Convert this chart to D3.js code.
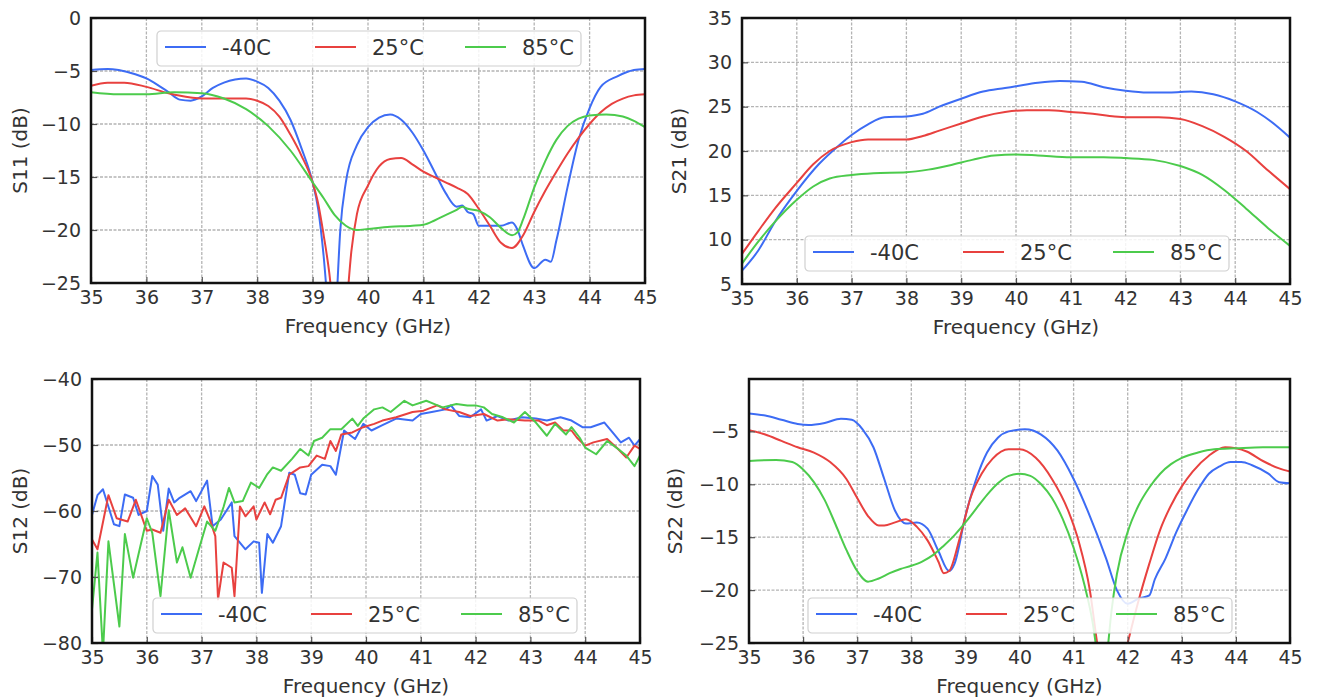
<!DOCTYPE html>
<html>
<head>
<meta charset="utf-8">
<script src="https://cdn.jsdelivr.net/npm/d3@7"></script>
<style>
  body { margin: 0; background: #fff; }
  svg { display: block; }
  text { font-family: "DejaVu Sans", sans-serif; fill: #333; }
</style>
</head>
<body>
<svg id="chart" width="1319" height="700"></svg>
<script>
// Temperature series shared by all four panels
const seriesNames = ["-40C", "25°C", "85°C"];
const seriesColors = ["#3d6cf4", "#e8413f", "#4ccb4c"];

const freqTicks = [35, 36, 37, 38, 39, 40, 41, 42, 43, 44, 45];
const s11Ticks = [0, -5, -10, -15, -20, -25];
const s21Ticks = [5, 10, 15, 20, 25, 30, 35];
const s12Ticks = [-40, -50, -60, -70, -80];
const s22Ticks = [-5, -10, -15, -20, -25];

// S11 (dB) vs frequency (GHz)
const s11_m40 = [[35,-4.9],[35.3,-4.8],[35.5,-4.9],[35.8,-5.3],[36,-5.7],[36.2,-6.3],[36.4,-7.0],[36.6,-7.7],[36.8,-7.8],[37,-7.4],[37.2,-6.6],[37.4,-6.1],[37.6,-5.8],[37.8,-5.7],[38,-6.0],[38.2,-6.6],[38.4,-7.8],[38.6,-9.6],[38.8,-12.3],[39,-15.5],[39.1,-18],[39.2,-22.5],[39.3,-29],[39.36,-33],[39.42,-28],[39.5,-20],[39.6,-15.5],[39.8,-12],[40,-10.3],[40.2,-9.4],[40.4,-9.1],[40.6,-9.6],[40.8,-10.8],[41,-12.5],[41.2,-14.5],[41.4,-16.5],[41.6,-17.8],[41.7,-17.7],[41.8,-18.3],[41.9,-18.5],[42,-19.6],[42.2,-19.6],[42.4,-19.6],[42.6,-19.3],[42.7,-20],[42.8,-21.5],[43,-23.6],[43.2,-22.8],[43.3,-23.0],[43.4,-21],[43.6,-16],[43.8,-11.5],[44,-8.5],[44.2,-6.5],[44.5,-5.5],[44.8,-4.9],[45,-4.8]];
const s11_25 = [[35,-6.4],[35.3,-6.1],[35.6,-6.1],[36,-6.5],[36.4,-7.1],[36.8,-7.5],[37,-7.6],[37.4,-7.6],[37.8,-7.6],[38,-7.8],[38.2,-8.3],[38.4,-9.3],[38.6,-11],[38.8,-13],[39,-15.5],[39.1,-17.5],[39.2,-20.5],[39.3,-24],[39.4,-29],[39.5,-32],[39.6,-28],[39.7,-22],[39.8,-18.5],[40,-15.8],[40.2,-14],[40.4,-13.3],[40.6,-13.2],[40.8,-13.8],[41,-14.5],[41.2,-15.0],[41.4,-15.5],[41.6,-16.0],[41.8,-16.6],[42,-18],[42.2,-19.6],[42.4,-21.2],[42.6,-21.7],[42.8,-20.5],[43,-18.3],[43.2,-16.3],[43.4,-14.5],[43.6,-12.8],[43.8,-11.3],[44,-10],[44.2,-8.9],[44.4,-8.1],[44.6,-7.6],[44.8,-7.3],[45,-7.2]];
const s11_85 = [[35,-7.0],[35.5,-7.2],[36,-7.2],[36.5,-7.0],[37,-7.1],[37.4,-7.6],[37.8,-8.6],[38.2,-10.2],[38.6,-12.5],[39,-15.5],[39.2,-17],[39.4,-18.6],[39.6,-19.6],[39.8,-20.0],[40,-19.9],[40.4,-19.7],[40.8,-19.6],[41,-19.5],[41.2,-19.1],[41.4,-18.6],[41.6,-18.1],[41.7,-17.8],[41.8,-18.0],[42,-18.2],[42.2,-18.8],[42.4,-19.8],[42.6,-20.5],[42.7,-20.2],[42.8,-19],[43,-16],[43.2,-13.5],[43.4,-11.5],[43.6,-10.2],[43.8,-9.5],[44,-9.2],[44.3,-9.1],[44.6,-9.3],[44.8,-9.7],[45,-10.3]];

// S21 (dB) vs frequency (GHz)
const s21_m40 = [[35,6.5],[35.3,8.8],[35.6,12],[36,15.5],[36.4,18.5],[36.8,20.8],[37,21.8],[37.3,23],[37.6,23.8],[38,23.9],[38.3,24.2],[38.6,25],[39,25.9],[39.4,26.7],[39.8,27.1],[40,27.3],[40.4,27.7],[40.8,27.9],[41.2,27.8],[41.6,27.2],[42,26.8],[42.4,26.6],[42.8,26.6],[43.2,26.7],[43.6,26.4],[44,25.6],[44.4,24.4],[44.8,22.6],[45,21.5]];
const s21_25 = [[35,8.4],[35.3,11],[35.6,13.5],[36,16.4],[36.3,18.5],[36.6,20],[37,21.0],[37.3,21.3],[37.6,21.3],[38,21.3],[38.3,21.7],[38.6,22.3],[39,23.1],[39.4,23.9],[39.8,24.4],[40.2,24.6],[40.6,24.6],[41,24.4],[41.4,24.2],[41.8,23.9],[42.2,23.8],[42.6,23.8],[43,23.6],[43.4,22.8],[43.8,21.6],[44.2,20],[44.6,17.8],[45,15.7]];
const s21_85 = [[35,7.3],[35.3,9.8],[35.6,12.0],[36,14.5],[36.3,16.0],[36.6,16.9],[37,17.3],[37.4,17.5],[38,17.6],[38.4,17.9],[38.8,18.4],[39.2,19.0],[39.6,19.5],[40,19.6],[40.4,19.5],[41,19.3],[41.6,19.3],[42,19.2],[42.5,19.0],[43,18.3],[43.4,17.3],[43.8,15.6],[44.2,13.5],[44.6,11.3],[45,9.3]];

// S12 (dB) vs frequency (GHz), measured trace
const s12_m40 = [[35,-60.6],[35.1,-57.6],[35.2,-56.7],[35.4,-62],[35.5,-62.3],[35.6,-57.5],[35.75,-58],[35.85,-60.6],[36,-60],[36.1,-54.7],[36.2,-56],[36.3,-63],[36.4,-56.6],[36.5,-58.7],[36.6,-58],[36.8,-57],[36.9,-58.5],[37.1,-55.4],[37.2,-62.3],[37.35,-61.3],[37.55,-58.7],[37.6,-63.8],[37.8,-65.8],[37.95,-64.6],[38.05,-64.8],[38.1,-72.4],[38.2,-63.5],[38.3,-64.8],[38.45,-62.3],[38.6,-54.2],[38.7,-54.5],[38.8,-57.3],[38.9,-57.5],[39,-54.5],[39.2,-53],[39.35,-53.2],[39.45,-54.5],[39.6,-47.8],[39.8,-49.1],[39.95,-46.8],[40.1,-47.8],[40.3,-47],[40.55,-46],[40.85,-46.3],[41,-45.3],[41.2,-45],[41.45,-44.6],[41.55,-44],[41.7,-45.6],[41.9,-45.8],[42.1,-44.6],[42.2,-46.3],[42.4,-45.6],[42.6,-46.3],[42.85,-45.8],[43.1,-46],[43.3,-46.3],[43.55,-45.8],[43.75,-46.3],[43.95,-47.3],[44.1,-47.3],[44.35,-46.6],[44.5,-48.1],[44.65,-49.6],[44.8,-48.9],[44.9,-50.1],[45,-49.1]];
const s12_25 = [[35,-64.3],[35.1,-65.8],[35.3,-57.6],[35.45,-61.1],[35.65,-61.6],[35.8,-58.3],[36,-63],[36.1,-62.8],[36.25,-63.3],[36.4,-58.3],[36.55,-60.6],[36.7,-59.6],[36.9,-62.3],[37.05,-59.3],[37.15,-61.3],[37.25,-63.8],[37.3,-73.4],[37.4,-67.8],[37.55,-68.6],[37.6,-72.9],[37.7,-59.3],[37.8,-60.8],[37.95,-59.3],[38,-61.3],[38.15,-58.7],[38.25,-60.5],[38.35,-58.3],[38.45,-58],[38.6,-54.5],[38.8,-53.4],[38.95,-53.2],[39.1,-51.6],[39.25,-52.1],[39.35,-49.4],[39.45,-50.9],[39.55,-48.4],[39.75,-48.1],[39.95,-47.3],[40.15,-46.8],[40.3,-46.3],[40.55,-45.8],[40.85,-45],[41.05,-44.8],[41.3,-44],[41.45,-44.6],[41.7,-45],[41.9,-45.6],[42.15,-45.3],[42.4,-46.3],[42.6,-46.1],[42.9,-46.3],[43.15,-46.3],[43.3,-47],[43.45,-46.6],[43.6,-47.8],[43.75,-47.8],[43.85,-48.9],[44,-50.1],[44.15,-49.6],[44.4,-49.1],[44.6,-50.6],[44.75,-51.9],[44.9,-50.1],[45,-50.6]];
const s12_85 = [[35,-74.9],[35.1,-66.3],[35.2,-81.5],[35.3,-64.6],[35.5,-77.5],[35.6,-63.5],[35.75,-70.1],[36,-61.1],[36.1,-63.3],[36.25,-72.9],[36.4,-59.9],[36.55,-67.8],[36.65,-65.5],[36.8,-70.1],[36.95,-65.8],[37.1,-61.6],[37.25,-63],[37.4,-59.4],[37.5,-56.5],[37.6,-58.7],[37.75,-58.5],[37.9,-55.7],[38.05,-56.5],[38.2,-54.4],[38.3,-53.4],[38.45,-53.9],[38.65,-52.1],[38.8,-50.6],[38.95,-51.6],[39.05,-49.4],[39.2,-48.9],[39.35,-47.6],[39.55,-47.6],[39.75,-46],[39.85,-47.1],[39.95,-46],[40.15,-44.6],[40.3,-44.3],[40.45,-45],[40.7,-43.3],[40.85,-44],[41.1,-43.3],[41.25,-43.8],[41.4,-44.3],[41.65,-43.8],[41.85,-44],[42,-44],[42.15,-44.3],[42.3,-45.3],[42.5,-45.8],[42.7,-46.6],[42.9,-45],[43.1,-46.6],[43.3,-48.6],[43.45,-46.8],[43.65,-48.4],[43.75,-47.3],[43.9,-48.9],[44,-50.4],[44.2,-51.4],[44.4,-49.4],[44.6,-50.6],[44.75,-51.6],[44.9,-53.2],[45,-51.6]];

// S22 (dB) vs frequency (GHz)
const s22_m40 = [[35,-3.3],[35.3,-3.5],[35.6,-3.9],[35.9,-4.3],[36.1,-4.4],[36.4,-4.2],[36.7,-3.8],[36.9,-3.9],[37.1,-4.8],[37.3,-6.5],[37.5,-9.5],[37.7,-12.5],[37.9,-13.7],[38.1,-13.6],[38.3,-14.2],[38.5,-16.3],[38.7,-18.2],[38.8,-17.5],[39,-13],[39.2,-9.5],[39.4,-7],[39.6,-5.6],[39.8,-5.0],[40.1,-4.8],[40.4,-5.3],[40.7,-6.8],[41,-9.5],[41.3,-13],[41.6,-17],[41.8,-20.0],[42,-21.3],[42.2,-20.8],[42.4,-20.5],[42.5,-19],[42.7,-17],[42.9,-14.5],[43.1,-12.4],[43.3,-10.5],[43.5,-9.0],[43.7,-8.3],[43.9,-7.9],[44.1,-7.9],[44.3,-8.2],[44.6,-9.0],[44.8,-9.8],[45,-9.9]];
const s22_25 = [[35,-4.9],[35.3,-5.3],[35.6,-5.9],[35.9,-6.5],[36.2,-7.0],[36.5,-7.9],[36.8,-9.5],[37,-11.3],[37.2,-13.0],[37.4,-13.9],[37.5,-13.9],[37.7,-13.6],[37.9,-13.3],[38.1,-14.0],[38.3,-15.3],[38.5,-17.3],[38.6,-18.4],[38.7,-18.2],[38.9,-15],[39.1,-11.2],[39.3,-9],[39.5,-7.6],[39.8,-6.7],[40,-6.7],[40.3,-7.5],[40.6,-9.5],[40.9,-12.5],[41.1,-15.5],[41.3,-20],[41.45,-25.5],[41.7,-31],[41.95,-26],[42.2,-21],[42.4,-17.5],[42.6,-14.3],[42.8,-12],[43,-10.2],[43.2,-8.8],[43.5,-7.3],[43.8,-6.5],[44,-6.6],[44.2,-6.9],[44.5,-7.8],[44.8,-8.5],[45,-8.8]];
const s22_85 = [[35,-7.8],[35.5,-7.7],[35.8,-7.9],[36,-8.6],[36.2,-9.8],[36.4,-11.5],[36.6,-13.8],[36.8,-16.2],[37,-18.2],[37.2,-19.2],[37.4,-18.9],[37.6,-18.4],[37.8,-18.0],[38,-17.7],[38.2,-17.3],[38.4,-16.7],[38.6,-15.8],[38.8,-14.8],[39,-13.6],[39.2,-12.3],[39.4,-11],[39.6,-9.9],[39.8,-9.2],[40,-9.0],[40.2,-9.2],[40.4,-10],[40.6,-11.3],[40.8,-13.3],[41,-16],[41.2,-19.5],[41.35,-23],[41.45,-26.5],[41.53,-29],[41.62,-26],[41.7,-22],[41.8,-18.5],[42,-14.5],[42.2,-12],[42.4,-10.3],[42.6,-9],[42.8,-8.1],[43,-7.5],[43.3,-7.0],[43.6,-6.7],[44,-6.6],[44.5,-6.5],[45,-6.5]];

const panels = [
  { key: "s11", box: [91, 18, 645, 283], yDomain: [-25, 0], yTicks: s11Ticks, yLabel: "S11 (dB)", yLabelX: 27,
    legend: [157, 31], series: [s11_m40, s11_25, s11_85], curve: d3.curveMonotoneX },
  { key: "s21", box: [742, 18, 1290, 284], yDomain: [5, 35], yTicks: s21Ticks, yLabel: "S21 (dB)", yLabelX: 686,
    legend: [805, 236], series: [s21_m40, s21_25, s21_85], curve: d3.curveMonotoneX },
  { key: "s12", box: [92, 379, 640, 643], yDomain: [-80, -40], yTicks: s12Ticks, yLabel: "S12 (dB)", yLabelX: 27,
    legend: [153, 598], series: [s12_m40, s12_25, s12_85], curve: d3.curveLinear },
  { key: "s22", box: [749, 379, 1290, 643], yDomain: [-25, -0.05], yTicks: s22Ticks, yLabel: "S22 (dB)", yLabelX: 682,
    legend: [808, 598], series: [s22_m40, s22_25, s22_85], curve: d3.curveMonotoneX }
];

const svg = d3.select("#chart");
const fmt = d => (d < 0 ? "\u2212" + Math.abs(d) : String(d));

panels.forEach(p => {
  const [x0, y0, x1, y1] = p.box;
  const x = d3.scaleLinear().domain([35, 45]).range([x0, x1]);
  const y = d3.scaleLinear().domain(p.yDomain).range([y1, y0]);
  const g = svg.append("g").attr("class", "panel-" + p.key);

  // clip region for the traces
  g.append("clipPath").attr("id", "clip-" + p.key)
    .append("rect").attr("x", x0).attr("y", y0).attr("width", x1 - x0).attr("height", y1 - y0);

  // grid
  const grid = g.append("g").attr("stroke", "#b4b4b4").attr("stroke-width", 1.3).attr("stroke-dasharray", "3,1.5");
  freqTicks.slice(1, -1).forEach(t => {
    grid.append("line").attr("x1", x(t)).attr("x2", x(t)).attr("y1", y0).attr("y2", y1);
  });
  p.yTicks.forEach(t => {
    if (y(t) > y0 + 1 && y(t) < y1 - 1)
      grid.append("line").attr("x1", x0).attr("x2", x1).attr("y1", y(t)).attr("y2", y(t));
  });

  // traces
  const line = d3.line().x(d => x(d[0])).y(d => y(d[1])).curve(p.curve);
  const traces = g.append("g").attr("clip-path", "url(#clip-" + p.key + ")");
  p.series.forEach((s, i) => {
    traces.append("path").datum(s).attr("d", line)
      .attr("fill", "none").attr("stroke", seriesColors[i]).attr("stroke-width", 2)
      .attr("stroke-linejoin", "round");
  });

  // axes with inward ticks
  const xAxis = d3.axisBottom(x).tickValues(freqTicks).tickSizeInner(-6).tickSizeOuter(0).tickPadding(10).tickFormat(d3.format("d"));
  const yAxis = d3.axisLeft(y).tickValues(p.yTicks).tickSizeInner(-6).tickSizeOuter(0).tickPadding(10).tickFormat(fmt);
  const gx = g.append("g").attr("transform", `translate(0,${y1})`).call(xAxis);
  const gy = g.append("g").attr("transform", `translate(${x0},0)`).call(yAxis);
  [gx, gy].forEach(a => {
    a.select(".domain").remove();
    a.selectAll(".tick line").attr("stroke", "#555").attr("stroke-width", 1.2);
    a.selectAll(".tick text").attr("font-size", 19).attr("fill", "#333")
      .style("font-family", "'DejaVu Sans', sans-serif");
  });
  gx.selectAll(".tick text").attr("dy", "0.6em");

  // frame
  g.append("rect").attr("x", x0).attr("y", y0).attr("width", x1 - x0).attr("height", y1 - y0)
    .attr("fill", "none").attr("stroke", "#111").attr("stroke-width", 2.5);

  // axis titles
  g.append("text").attr("x", (x0 + x1) / 2).attr("y", y1 + 50).attr("text-anchor", "middle")
    .attr("font-size", 20).text("Frequency (GHz)");
  g.append("text").attr("transform", `translate(${p.yLabelX},${(y0 + y1) / 2}) rotate(-90)`)
    .attr("text-anchor", "middle").attr("font-size", 20).text(p.yLabel);

  // legend
  const [lx, ly] = p.legend;
  const lg = g.append("g").attr("transform", `translate(${lx},${ly})`);
  lg.append("rect").attr("width", 424).attr("height", 35).attr("rx", 4)
    .attr("fill", "#fff").attr("fill-opacity", 0.85).attr("stroke", "#d0d0d0").attr("stroke-width", 1.2);
  seriesNames.forEach((name, i) => {
    const ox = 8 + i * 150;
    lg.append("line").attr("x1", ox).attr("x2", ox + 41).attr("y1", 16).attr("y2", 16)
      .attr("stroke", seriesColors[i]).attr("stroke-width", 2.2);
    lg.append("text").attr("x", ox + 57).attr("y", 24).attr("font-size", 21).text(name);
  });
});
</script>
</body>
</html>
